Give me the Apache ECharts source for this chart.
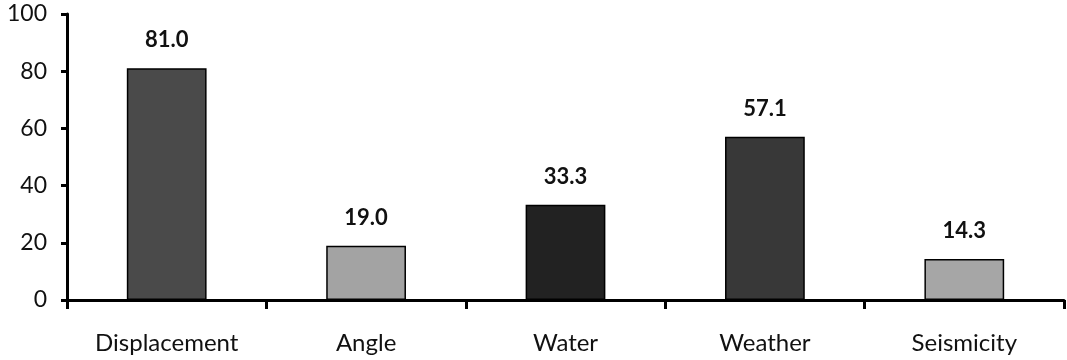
<!DOCTYPE html>
<html><head><meta charset="utf-8">
<script src="https://cdn.jsdelivr.net/npm/echarts@6/dist/echarts.min.js"></script>
<style>html,body{margin:0;padding:0;background:#fff}#c{width:1067px;height:360px}</style>
</head><body><div id="c"></div>
<script>
const categories = ['Displacement', 'Angle', 'Water', 'Weather', 'Seismicity'];
const values = [81.0, 19.0, 33.3, 57.1, 14.3];
const barColors = ['#4a4a4a', '#a3a3a3', '#222222', '#383838', '#a6a6a6'];
const yTicks = [0, 20, 40, 60, 80, 100];

const chart = echarts.init(document.getElementById('c'));
chart.setOption({
  animation: false,
  backgroundColor: '#fff',
  textStyle: { fontFamily: 'Lato, "Open Sans", sans-serif' },
  grid: { left: 67, right: 3, top: 14, bottom: 60 },
  xAxis: {
    type: 'category',
    data: categories,
    axisLine: { lineStyle: { color: '#000', width: 3 } },
    axisTick: { show: true, length: 9, lineStyle: { color: '#000', width: 3 } },
    axisLabel: { color: '#111', fontSize: 24, margin: 31, fontFamily: 'Lato, sans-serif' }
  },
  yAxis: {
    type: 'value', min: 0, max: 100, interval: 20,
    axisLine: { show: true, lineStyle: { color: '#000', width: 3 } },
    axisTick: { show: true, length: 6, lineStyle: { color: '#000', width: 3 } },
    splitLine: { show: false },
    axisLabel: { color: '#111', fontSize: 23, margin: 20, fontFamily: 'Lato, sans-serif',
      formatter: v => yTicks.includes(v) ? String(v) : '' }
  },
  series: [{
    type: 'bar',
    barWidth: '40%',
    data: values.map((v, i) => ({ value: v, itemStyle: { color: barColors[i] } })),
    itemStyle: { borderColor: '#000', borderWidth: 1.5 },
    label: { show: true, position: 'top', distance: 17, fontSize: 22, fontWeight: 'bold', color: '#111',
      fontFamily: 'Lato, sans-serif', formatter: p => p.value.toFixed(1) }
  }]
});
</script></body></html>
